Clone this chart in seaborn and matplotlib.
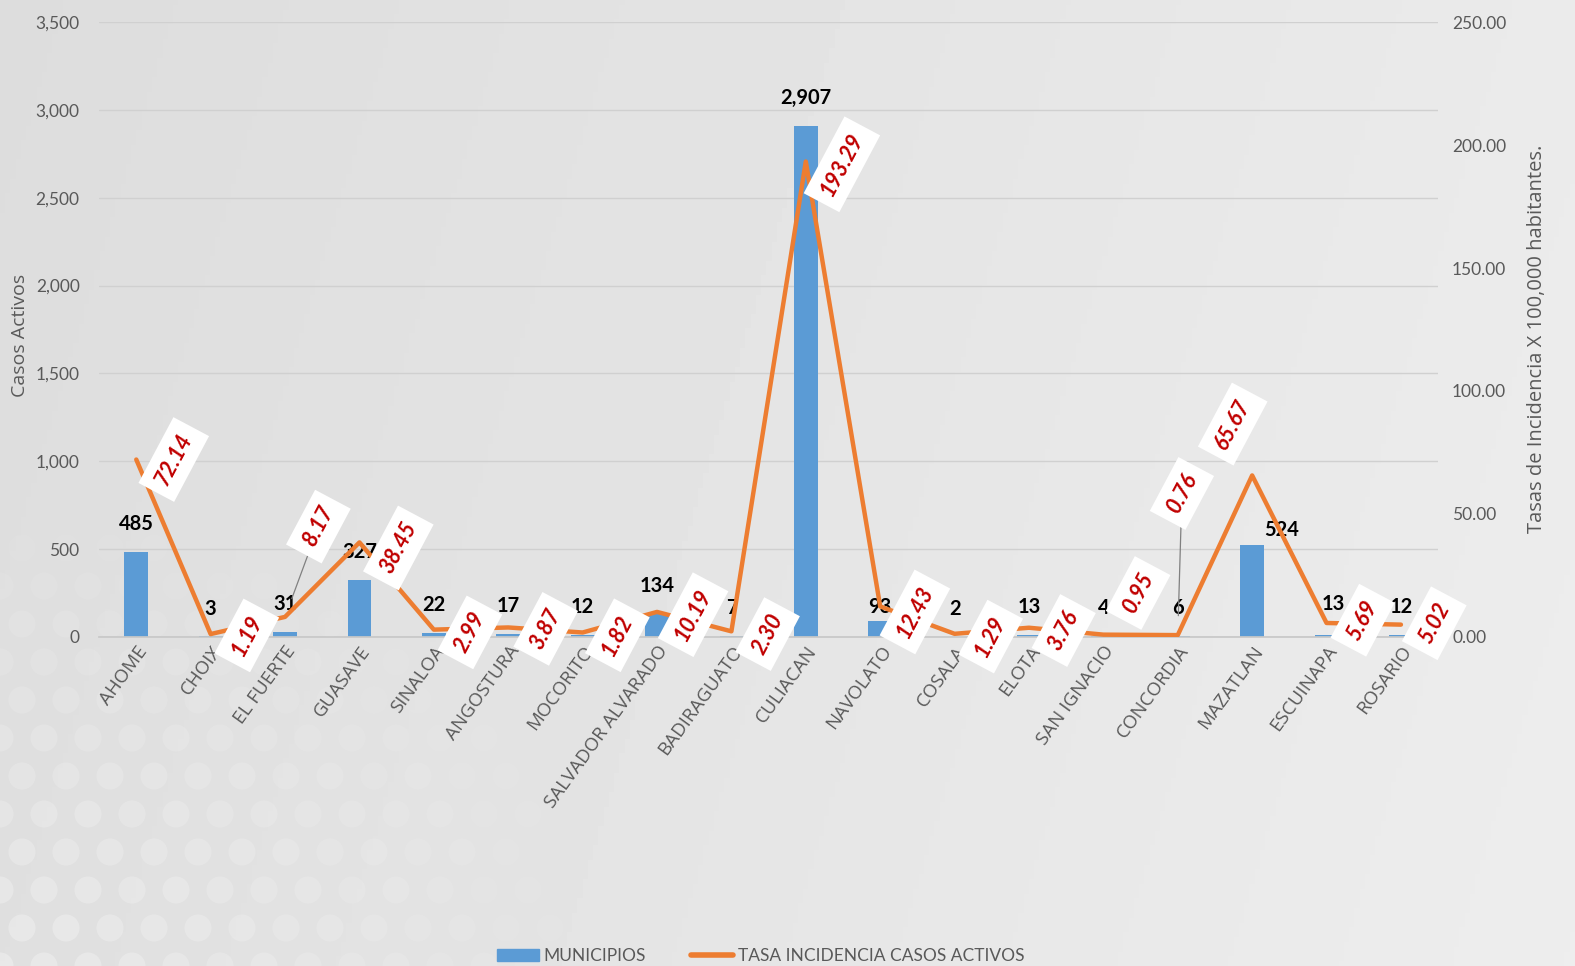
"""Casos activos y tasa de incidencia por municipio."""

import matplotlib.pyplot as plt
import numpy as np
import pandas as pd
import seaborn as sns
from matplotlib.lines import Line2D
from matplotlib.patches import Patch

sns.set_theme(style="white")
plt.rcParams["font.family"] = ["Lato", "DejaVu Sans"]

MUNICIPIOS = [
    "AHOME", "CHOIX", "EL FUERTE", "GUASAVE", "SINALOA", "ANGOSTURA",
    "MOCORITO", "SALVADOR ALVARADO", "BADIRAGUATO", "CULIACAN", "NAVOLATO",
    "COSALA", "ELOTA", "SAN IGNACIO", "CONCORDIA", "MAZATLAN", "ESCUINAPA",
    "ROSARIO",
]
CASOS_ACTIVOS = [485, 3, 31, 327, 22, 17, 12, 134, 7, 2907, 93, 2, 13, 4, 6, 524, 13, 12]
TASA_INCIDENCIA = [72.14, 1.19, 8.17, 38.45, 2.99, 3.87, 1.82, 10.19, 2.30, 193.29,
                   12.43, 1.29, 3.76, 0.95, 0.76, 65.67, 5.69, 5.02]

# label offsets in points (layout only)
RATE_OFFSETS = [(27, 0), (26, -1), (24, 65), (28, -4), (26, -2), (27, -1), (25, -2),
                (26, -2), (26, -2), (26, -2), (25, -4), (26, -2), (25, -2),
                (25, 30), (3, 102), (-14, 37), (26, 2), (24, 1)]
LEADER = {2, 14}
BAR_OFFSETS = {15: (21, 11), 10: (0, 10), 16: (5, 22)}

BLUE = "#5B9BD5"
ORANGE = "#ED7D31"
RED = "#C00000"
GRAY = "#595959"

df = pd.DataFrame({"municipio": MUNICIPIOS, "casos": CASOS_ACTIVOS, "tasa": TASA_INCIDENCIA})

fig = plt.figure(figsize=(15.75, 9.66), dpi=100)

# soft gray background with a faint bubble texture in the lower left
bg = fig.add_axes([0, 0, 1, 1], zorder=-5)
gx = np.linspace(0, 1, 300)
gy = np.linspace(0, 1, 200)
X, Y = np.meshgrid(gx, gy)
shade = 0.865 + 0.055 * X + 0.01 * (1 - Y)
bg.imshow(shade, cmap="gray", vmin=0, vmax=1, aspect="auto", extent=[0, 1, 0, 1], origin="lower")
hx, hy = np.meshgrid(np.arange(0, 700, 44), np.arange(0, 520, 38))
hx = hx + (np.arange(hx.shape[0])[:, None] % 2) * 22
px, py = hx.ravel(), hy.ravel()
fade = np.clip(1 - np.hypot(px / 650, py / 500), 0, 1)
bg.scatter(px / 1575, py / 966, s=380, c="white", alpha=fade * 0.3, lw=0)
bg.set_xlim(0, 1)
bg.set_ylim(0, 1)
bg.axis("off")

ax = fig.add_axes([0.0629, 0.3406, 0.8502, 0.6366])
ax.patch.set_alpha(0)
sns.barplot(data=df, x="municipio", y="casos", color=BLUE, width=0.32, saturation=1,
            linewidth=0, ax=ax, zorder=2)
ax.set_ylim(0, 3500)
ax.set_yticks(range(0, 3501, 500))
ax.set_yticklabels([f"{v:,}" for v in range(0, 3501, 500)], fontsize=12.5, color=GRAY)
ax.yaxis.grid(True, color="#d0d0d0", lw=1)
ax.set_axisbelow(True)
ax.set_xlabel("")
ax.set_ylabel("Casos Activos", fontsize=14, color=GRAY, family="Open Sans")
ax.yaxis.set_label_coords(-0.052, 0.49)
ax.set_xlim(-0.5, len(MUNICIPIOS) - 0.5)
ax.tick_params(axis="x", length=0, pad=4)
ax.tick_params(axis="y", length=0, pad=14)
plt.setp(ax.get_xticklabels(), rotation=54, ha="right", rotation_mode="anchor",
         fontsize=13.5, color=GRAY, family="Open Sans")
for s in ax.spines.values():
    s.set_visible(False)
ax.spines["bottom"].set_visible(True)
ax.spines["bottom"].set_color("#c8c8c8")

for i, v in enumerate(CASOS_ACTIVOS):
    dx, dy = BAR_OFFSETS.get(i, (0, 20))
    ax.annotate(f"{v:,}", (i, v), xytext=(dx, dy), textcoords="offset points",
                ha="center", va="center", fontsize=14.5, fontweight="bold", color="black", zorder=6)

ax2 = ax.twinx()
sns.lineplot(data=df, x="municipio", y="tasa", color=ORANGE, lw=3.2, sort=False, ax=ax2, zorder=3)
ax2.set_ylim(0, 250)
ax2.set_yticks(range(0, 251, 50))
ax2.set_yticklabels([f"{v:.2f}" for v in range(0, 251, 50)], fontsize=12.5, color=GRAY)
ax2.set_ylabel("Tasas de Incidencia X 100,000 habitantes.", fontsize=14.5, color=GRAY,
               family="Open Sans", rotation=90)
ax2.yaxis.set_label_coords(1.066, 0.485)
ax2.tick_params(axis="y", length=0, pad=10)
for s in ax2.spines.values():
    s.set_visible(False)

for i, v in enumerate(TASA_INCIDENCIA):
    arrow = dict(arrowstyle="-", color="#808080", lw=0.9, shrinkA=0, shrinkB=14) if i in LEADER else None
    ax2.annotate(f"{v:.2f}", (i, v), xytext=RATE_OFFSETS[i], textcoords="offset points",
                 ha="center", va="center", rotation=62, fontsize=15.5, fontweight="bold",
                 fontstyle="italic", color=RED, zorder=7, arrowprops=arrow,
                 bbox=dict(boxstyle="square,pad=0.45", fc="white", ec="none"))

handles = [Patch(color=BLUE), Line2D([], [], color=ORANGE, lw=4)]
fig.legend(handles, ["MUNICIPIOS", "TASA INCIDENCIA CASOS ACTIVOS"], loc="lower center",
           bbox_to_anchor=(0.483, -0.014), ncol=2, frameon=False, fontsize=12.5,
           handlelength=2.4, handletextpad=0.3, columnspacing=2.6, labelcolor=GRAY)

fig.savefig("out.png", dpi=100)
